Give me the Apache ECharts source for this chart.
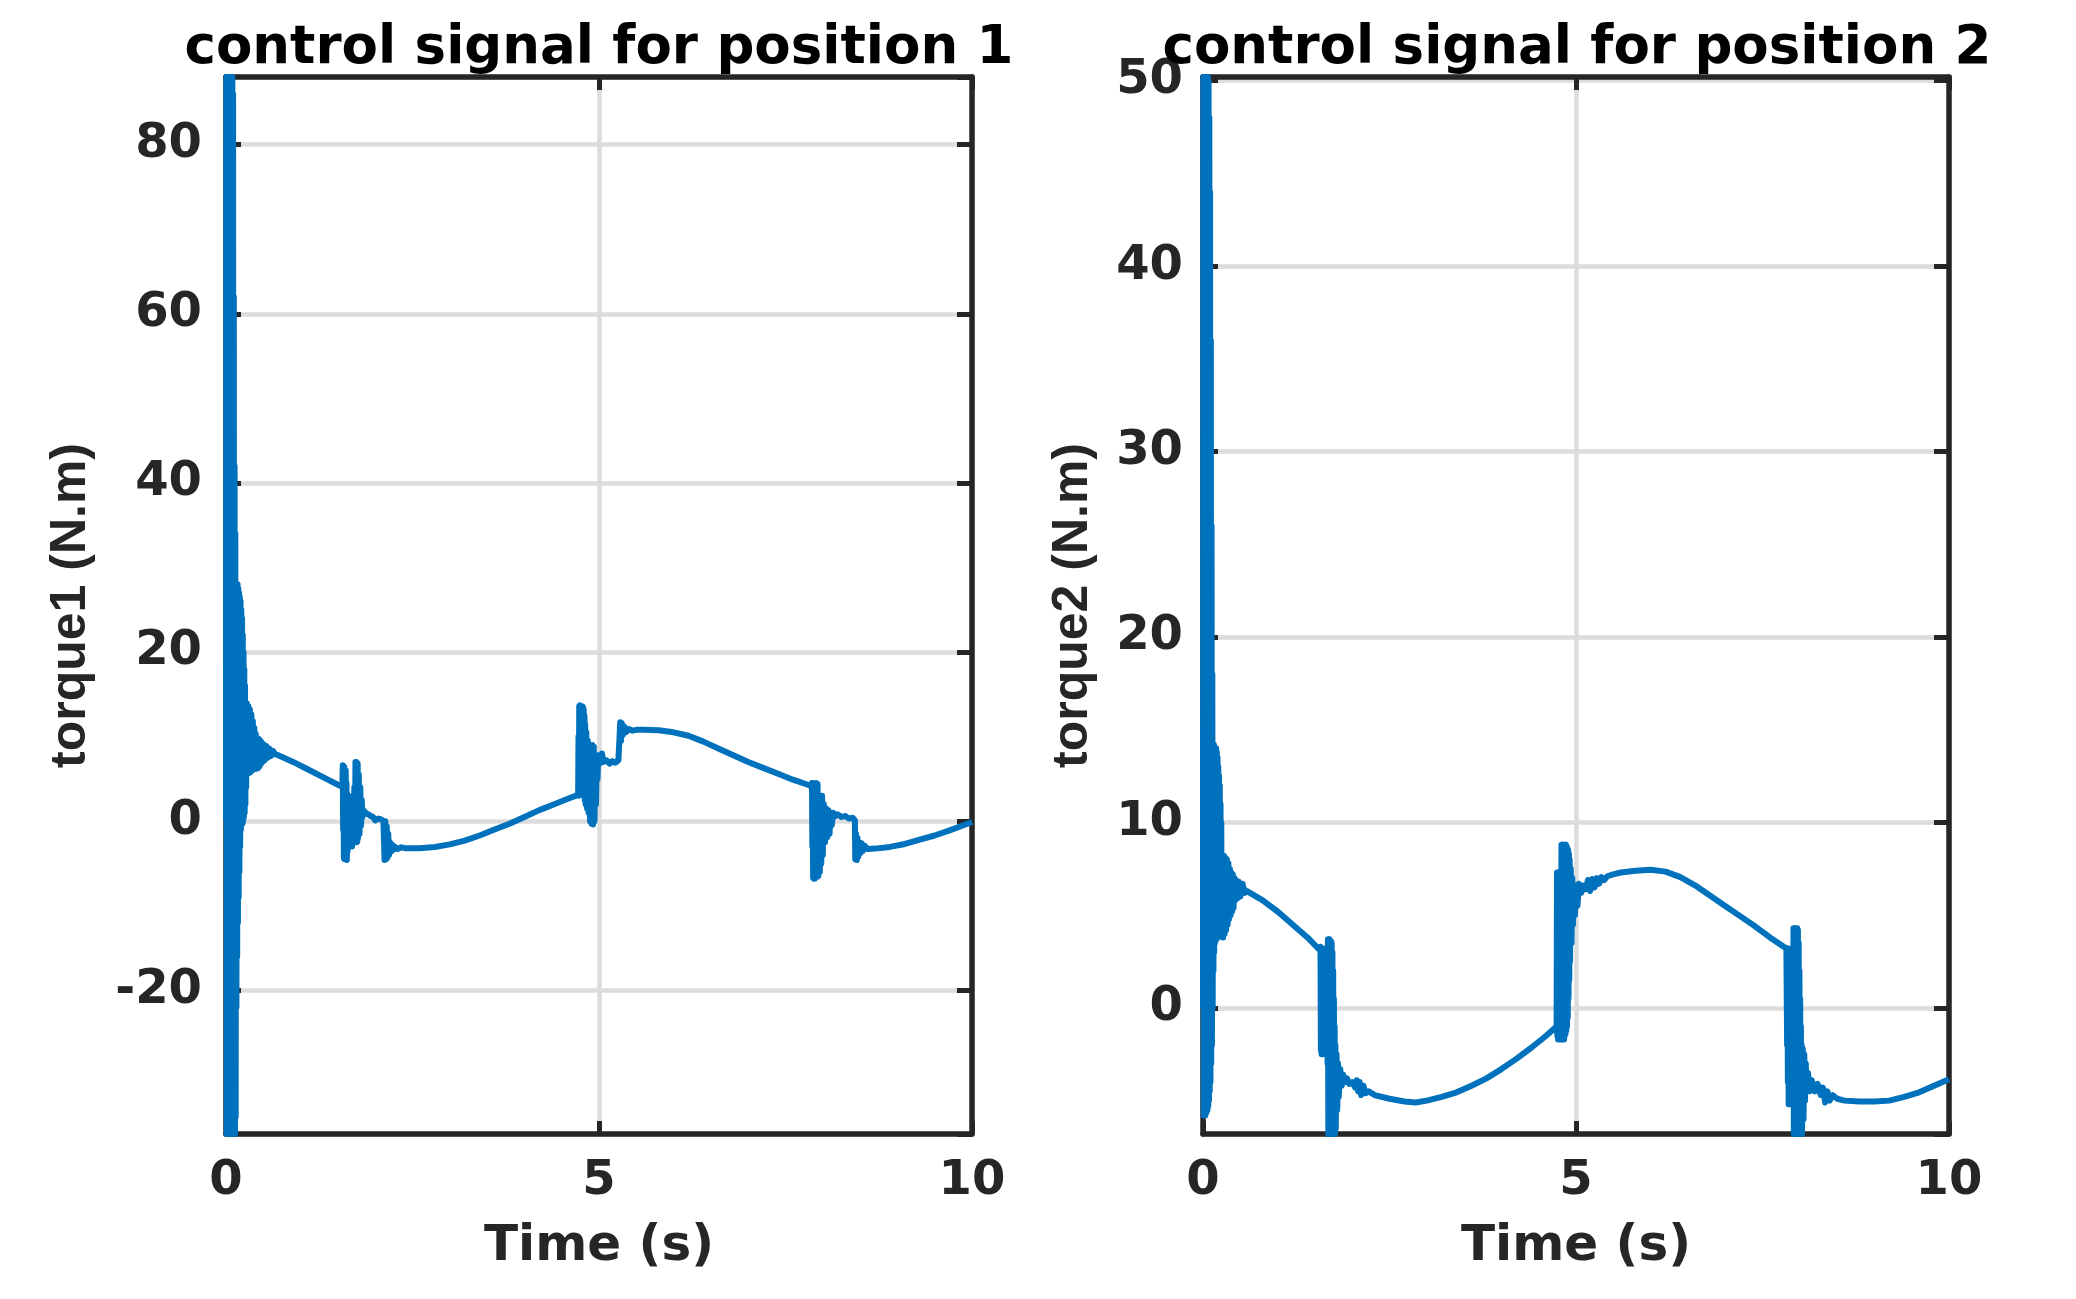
<!DOCTYPE html>
<html><head><meta charset="utf-8">
<script src="https://cdn.jsdelivr.net/npm/echarts@6/dist/echarts.min.js"></script>
<style>html,body{margin:0;padding:0;background:#fff}#chart{width:2076px;height:1299px}</style>
</head><body><div id="chart"></div>
<script>
// ---- data ----
const titles = ['control signal for position 1', 'control signal for position 2'];
const xName = 'Time (s)';
const yNames = ['torque1 (N.m)', 'torque2 (N.m)'];
const xRange = [0, 10];
const y1Range = [-37, 88];
const y2Range = [-6.8, 50.2];

// torque1: [time (s), torque (N.m)]
const torque1 = [
[0,0],[0.005,88],[0.01,-37],[0.015,88],[0.02,-37],[0.025,88],[0.03,-37],[0.035,88],[0.04,-37],[0.045,88],[0.05,-37],[0.055,88],[0.06,-37],[0.065,88],[0.07,-37],[0.075,88],[0.08,-37],[0.085,88],[0.09,-37],[0.095,86],[0.1,-37],[0.105,62],[0.11,-37],[0.115,42],[0.12,-37],[0.125,34],[0.13,-35],[0.135,28],[0.14,-22],[0.145,28],[0.15,-16],[0.155,28],[0.16,-12],[0.165,27.5],[0.17,-9],[0.175,27],[0.18,-6],[0.185,26.5],[0.19,-3],[0.195,26],[0.2,-1],[0.205,25],[0.21,-0.4],[0.215,24],[0.22,-0.3],[0.225,22],[0.23,0],[0.235,20],[0.24,0.5],[0.245,18],[0.25,1],[0.255,16],[0.26,2],[0.265,14],[0.27,4],[0.28,13.9],[0.29,5.6],[0.3,13.6],[0.31,5.7],[0.32,13.2],[0.33,5.8],[0.34,12.6],[0.35,6],[0.36,11.8],[0.37,6.1],[0.38,11],[0.39,6.2],[0.4,10.3],[0.41,6.2],[0.42,9.8],[0.43,6.3],[0.44,9.7],[0.45,6.5],[0.46,9.5],[0.47,6.8],[0.48,9.3],[0.49,7],[0.5,9.1],[0.52,7.2],[0.54,8.9],[0.56,7.5],[0.58,8.6],[0.6,7.7],[0.63,8.3],[0.66,7.9],
[0.7,7.8],[0.9,7.0],[1.1,6.1],[1.3,5.2],[1.5,4.3],[1.56,4.05],
[1.565,6.6],[1.57,-1],[1.575,6.5],[1.58,-4.4],[1.585,6.4],[1.59,-4.5],[1.595,5.8],[1.6,-4.4],[1.605,6.0],[1.61,-4.2],[1.615,4.5],[1.62,-4.6],[1.625,3.2],[1.63,-3.6],[1.64,2.2],[1.65,-2.9],[1.66,1.6],[1.67,-2.6],[1.68,2],[1.69,-3],[1.7,3],[1.71,-2.2],[1.72,4],[1.73,-2.3],[1.735,7.0],[1.74,-2.3],[1.745,7.0],[1.75,-2.5],[1.755,6.9],[1.76,-2.4],[1.765,6.8],[1.77,-2],[1.78,5.5],[1.79,-1.5],[1.8,4],[1.81,-0.5],[1.82,2.5],[1.83,0.5],
[1.85,1.2],[1.88,0.9],[1.91,0.8],[1.94,0.6],[1.97,0.5],[2.0,0.1],[2.04,0.3],[2.08,0.2],[2.11,0],[2.12,0.2],[2.125,-4.6],[2.135,0],[2.145,-4.5],[2.155,-0.6],[2.165,-4.3],[2.175,-1.5],[2.185,-4],[2.2,-2.5],[2.215,-3.6],[2.23,-2.8],[2.245,-3.4],[2.26,-3.0],[2.3,-3.3],[2.35,-3.1],
[2.4,-3.2],[2.6,-3.2],[2.8,-3.05],[3.0,-2.75],[3.2,-2.3],[3.4,-1.7],[3.6,-1.0],[3.8,-0.3],[4.0,0.5],[4.2,1.3],[4.4,2.0],[4.6,2.7],[4.72,3.1],
[4.725,10],[4.73,3],[4.735,13.6],[4.74,3.5],[4.745,13.7],[4.75,4],[4.755,13.6],[4.76,4],[4.765,13.6],[4.77,4.5],[4.775,13.6],[4.78,4],[4.785,13.5],[4.79,3.5],[4.795,13.2],[4.8,3],[4.805,12.5],[4.81,2.5],[4.815,11.5],[4.82,2],[4.83,10.5],[4.84,1.5],[4.85,9.5],[4.86,1],[4.87,9],[4.88,0],[4.89,8.8],[4.9,-0.3],[4.91,9],[4.92,-0.4],[4.93,8.8],[4.94,0],[4.95,7.5],[4.96,2],[4.97,7],[4.98,5],[4.99,7.8],[5.01,6.8],[5.04,8.0],[5.06,7.0],[5.1,7.2],[5.14,6.8],[5.18,7.1],[5.22,6.9],[5.26,7.2],[5.28,7.0],[5.285,11.7],[5.295,9.5],[5.305,11.6],[5.32,10.2],[5.34,11.2],[5.36,10.5],[5.4,10.9],[5.45,10.7],[5.5,10.8],
[5.6,10.8],[5.8,10.75],[6.0,10.5],[6.2,10.1],[6.4,9.4],[6.6,8.6],[6.8,7.8],[7.0,7.0],[7.2,6.3],[7.4,5.6],[7.6,4.9],[7.8,4.3],[7.85,4.1],
[7.855,4.5],[7.86,-3],[7.865,4.5],[7.87,-6.7],[7.875,4.4],[7.88,-6.8],[7.885,4.3],[7.89,-6.8],[7.895,3.5],[7.9,-6.7],[7.91,4.5],[7.92,-6.6],[7.93,4.4],[7.94,-6.5],[7.95,3],[7.96,-6],[7.97,2.5],[7.98,-5],[7.99,3],[8.0,-4],[8.015,2],[8.03,-2.5],[8.045,1.5],[8.06,-1.9],[8.075,1.3],[8.09,-1.5],[8.105,1.0],[8.12,-0.5],[8.14,1.0],[8.17,0.6],[8.2,0.8],[8.25,0.5],[8.3,0.6],[8.35,0.3],[8.4,0.4],[8.43,0.1],[8.435,-4.5],[8.445,-1.5],[8.455,-4.6],[8.465,-2],[8.475,-4.2],[8.49,-2.5],[8.505,-3.8],[8.52,-2.6],[8.54,-3.5],[8.56,-2.9],[8.6,-3.3],
[8.7,-3.25],[8.9,-3.05],[9.1,-2.7],[9.3,-2.2],[9.5,-1.7],[9.7,-1.1],[9.85,-0.6],[10,-0.1]
];

// torque2: [time (s), torque (N.m)]
const torque2 = [
[0,0],[0.005,50.2],[0.01,-5.8],[0.015,50.2],[0.02,-5.8],[0.025,50.2],[0.03,-5.8],[0.035,50.2],[0.04,-5.7],[0.045,50.2],[0.05,-5.6],[0.055,50.2],[0.06,-5.5],[0.065,50.2],[0.07,-5.3],[0.075,50],[0.08,-5],[0.085,48],[0.09,-4.5],[0.095,44],[0.1,-4],[0.105,36],[0.11,-3],[0.115,26],[0.12,-2],[0.125,18],[0.13,0],[0.135,14.2],[0.14,2],[0.145,14.2],[0.15,3],[0.155,14.1],[0.16,3.5],[0.165,14],[0.17,3.7],[0.175,14],[0.18,3.7],[0.185,13.8],[0.19,3.8],[0.195,13.5],[0.2,3.8],[0.205,13],[0.21,4],[0.215,12.5],[0.22,4],[0.225,12],[0.23,4],[0.235,11],[0.24,4],[0.245,10],[0.25,4],[0.26,8.2],[0.27,3.8],[0.28,8.2],[0.29,4],[0.3,8.1],[0.31,4.2],[0.32,8],[0.33,4.5],[0.34,7.8],[0.35,4.8],[0.36,7.5],[0.37,5],[0.38,7.3],[0.39,5.2],[0.4,7.2],[0.41,5.4],[0.42,7],[0.43,5.8],[0.44,6.9],[0.46,5.9],[0.48,6.8],[0.5,6],[0.53,6.7],[0.56,6.2],[0.59,6.3],
[0.8,5.8],[1.0,5.2],[1.2,4.5],[1.4,3.8],[1.57,3.1],
[1.575,3.3],[1.58,-2.3],[1.585,3.2],[1.59,-2.5],[1.595,3.2],[1.6,-2.4],[1.605,3.1],[1.61,-2.5],[1.615,3.2],[1.62,-2.3],[1.625,3.0],[1.63,-2.4],[1.635,3.1],[1.64,-2.2],[1.645,2.9],[1.65,-2.3],[1.655,3.0],[1.66,-2.0],[1.665,3.2],[1.67,-3],[1.675,3.7],[1.68,-6.8],[1.685,3.7],[1.69,-6.8],[1.695,3.7],[1.7,-6.8],[1.705,3.6],[1.71,-6.8],[1.715,3.6],[1.72,-6.8],[1.725,3.5],[1.73,-6.8],[1.735,3],[1.74,-6.8],[1.745,2],[1.75,-6.8],[1.755,0.5],[1.76,-6.8],[1.765,-1],[1.77,-6.8],[1.775,-2],[1.78,-6.5],[1.79,-2.5],[1.8,-5.5],[1.81,-3],[1.82,-4.8],
[1.84,-3.3],[1.86,-4.2],[1.88,-3.6],[1.9,-4.0],[1.93,-3.8],[1.96,-4.1],[2.0,-4.0],[2.04,-4.3],[2.06,-3.9],[2.08,-4.5],[2.1,-4.0],[2.12,-4.7],[2.15,-4.2],[2.18,-4.6],[2.22,-4.5],
[2.3,-4.7],[2.5,-4.9],[2.7,-5.05],[2.85,-5.1],[3.0,-5.0],[3.2,-4.8],[3.4,-4.55],[3.6,-4.2],[3.8,-3.8],[4.0,-3.3],[4.2,-2.75],[4.4,-2.15],[4.6,-1.5],[4.74,-1.0],
[4.745,7.3],[4.75,-1.5],[4.755,7.3],[4.76,-1.7],[4.765,7.3],[4.77,-1.7],[4.775,7.2],[4.78,-1.7],[4.785,7.3],[4.79,-1.6],[4.795,7.4],[4.8,-1.7],[4.805,8.8],[4.81,-1.7],[4.815,8.8],[4.82,-1.6],[4.825,8.8],[4.83,-1.5],[4.835,8.8],[4.84,-1.7],[4.845,8.7],[4.85,-1.5],[4.855,8.8],[4.86,-1.4],[4.865,8.8],[4.87,-1.2],[4.875,8.7],[4.88,-1.0],[4.885,8.6],[4.89,-0.5],[4.895,8.5],[4.9,0.5],[4.905,8.3],[4.91,1.5],[4.915,8],[4.92,2.5],[4.93,7.5],[4.94,3.5],[4.95,7.0],[4.96,4.5],[4.97,6.6],[4.985,5],[5.0,6.6],[5.02,5.5],[5.04,6.7],[5.07,6.2],
[5.1,6.6],[5.13,6.4],[5.16,6.9],[5.19,6.3],[5.22,6.95],[5.25,6.5],[5.28,7.0],[5.31,6.7],[5.34,7.05],[5.38,6.9],[5.42,7.1],[5.5,7.2],
[5.6,7.3],[5.8,7.4],[6.0,7.45],[6.2,7.35],[6.4,7.05],[6.6,6.6],[6.8,6.05],[7.0,5.5],[7.2,4.95],[7.4,4.4],[7.6,3.8],[7.82,3.2],
[7.825,3.3],[7.83,-2],[7.835,3.2],[7.84,-4],[7.845,3.2],[7.85,-5.2],[7.855,3.1],[7.86,-5.2],[7.865,3],[7.87,-5.2],[7.875,3.1],[7.88,-5.2],[7.885,3],[7.89,-5.1],[7.895,3.1],[7.9,-5.2],[7.905,3.2],[7.91,-5.0],[7.915,4.3],[7.92,-6.8],[7.925,4.3],[7.93,-6.8],[7.935,4.3],[7.94,-6.8],[7.945,4.3],[7.95,-6.8],[7.955,4.2],[7.96,-6.8],[7.965,4.3],[7.97,-6.8],[7.975,4.2],[7.98,-6.8],[7.985,3.5],[7.99,-6.8],[7.995,2],[8.0,-6.8],[8.005,0.5],[8.01,-6.8],[8.015,-1],[8.02,-6.8],[8.025,-2],[8.03,-6.8],[8.04,-2.2],[8.05,-6],[8.06,-2.5],[8.07,-5],[8.08,-3],[8.09,-4.5],[8.11,-3.5],[8.13,-4.5],
[8.16,-3.9],[8.2,-4.5],[8.24,-4.1],[8.28,-4.7],[8.31,-4.3],[8.34,-5.1],[8.37,-4.5],[8.4,-5.0],[8.44,-4.7],[8.5,-4.9],[8.6,-5.0],[8.8,-5.05],[9.0,-5.05],[9.2,-5.0],[9.4,-4.8],[9.6,-4.55],[9.8,-4.2],[10,-3.85]
];

// ---- styling / layout ----
const AX = '#262626';
const GRIDC = '#dcdcdc';
const LINE = '#0072BD';
const labelFont = {fontFamily: 'DejaVu Sans', fontWeight: 'bold', fontSize: 48, color: AX};
const nameFontX = {fontFamily: 'DejaVu Sans', fontWeight: 'bold', fontSize: 50, color: AX};
const nameFontY = {fontFamily: 'Liberation Sans', fontWeight: 'bold', fontSize: 50, color: AX};
const titleFont = {fontFamily: 'DejaVu Sans', fontWeight: 'bold', fontSize: 53, color: '#000'};

const grids = [
  {left: 226, right: 2076 - 972, top: 77, bottom: 1299 - 1134},
  {left: 1203, right: 2076 - 1949, top: 77, bottom: 1299 - 1134}
];

function xAxes(gi) {
  const common = {
    gridIndex: gi, type: 'value', min: xRange[0], max: xRange[1], interval: 5,
    axisLine: {show: true, onZero: false, lineStyle: {color: AX, width: 5.5}},
    axisTick: {show: true, inside: true, length: 13, lineStyle: {color: AX, width: 5}}
  };
  return [
    Object.assign({}, common, {
      position: 'bottom',
      axisLabel: Object.assign({margin: 24}, labelFont),
      splitLine: {show: true, lineStyle: {color: GRIDC, width: 4.5}},
      name: xName, nameLocation: 'middle', nameGap: 88, nameTextStyle: nameFontX
    }),
    Object.assign({}, common, {
      position: 'top', axisLabel: {show: false}, splitLine: {show: false}
    })
  ];
}
function yAxes(gi, range, gap, margin) {
  const common = {
    gridIndex: gi, type: 'value', min: range[0], max: range[1], splitNumber: 6,
    axisLine: {show: true, onZero: false, lineStyle: {color: AX, width: 5.5}},
    axisTick: {show: true, inside: true, length: 15, lineStyle: {color: AX, width: 5}}
  };
  return [
    Object.assign({}, common, {
      position: 'left',
      axisLabel: Object.assign({margin: margin, showMinLabel: false, showMaxLabel: false}, labelFont),
      splitLine: {show: true, lineStyle: {color: GRIDC, width: 4.5}},
      name: yNames[gi], nameLocation: 'middle', nameGap: gap, nameTextStyle: nameFontY
    }),
    Object.assign({}, common, {
      position: 'right', axisLabel: {show: false}, splitLine: {show: false}
    })
  ];
}

const option = {
  animation: false,
  backgroundColor: '#ffffff',
  title: [
    {text: titles[0], left: 599, top: 23, textAlign: 'center', padding: 0, textStyle: titleFont},
    {text: titles[1], left: 1577, top: 23, textAlign: 'center', padding: 0, textStyle: titleFont}
  ],
  grid: grids.map(g => Object.assign({outerBoundsMode: 'none', containLabel: false}, g)),
  xAxis: [...xAxes(0), ...xAxes(1)],
  yAxis: [...yAxes(0, y1Range, 130, 24), ...yAxes(1, y2Range, 105, 20)],
  series: [
    {type: 'line', xAxisIndex: 0, yAxisIndex: 0, data: torque1, showSymbol: false, symbol: 'none',
     clip: true, lineStyle: {color: LINE, width: 6, join: 'round'}, z: 3},
    {type: 'line', xAxisIndex: 2, yAxisIndex: 2, data: torque2, showSymbol: false, symbol: 'none',
     clip: true, lineStyle: {color: LINE, width: 6, join: 'round'}, z: 3}
  ]
};

const chart = echarts.init(document.getElementById('chart'), null, {renderer: 'canvas'});
chart.setOption(option);
</script>
</body></html>
